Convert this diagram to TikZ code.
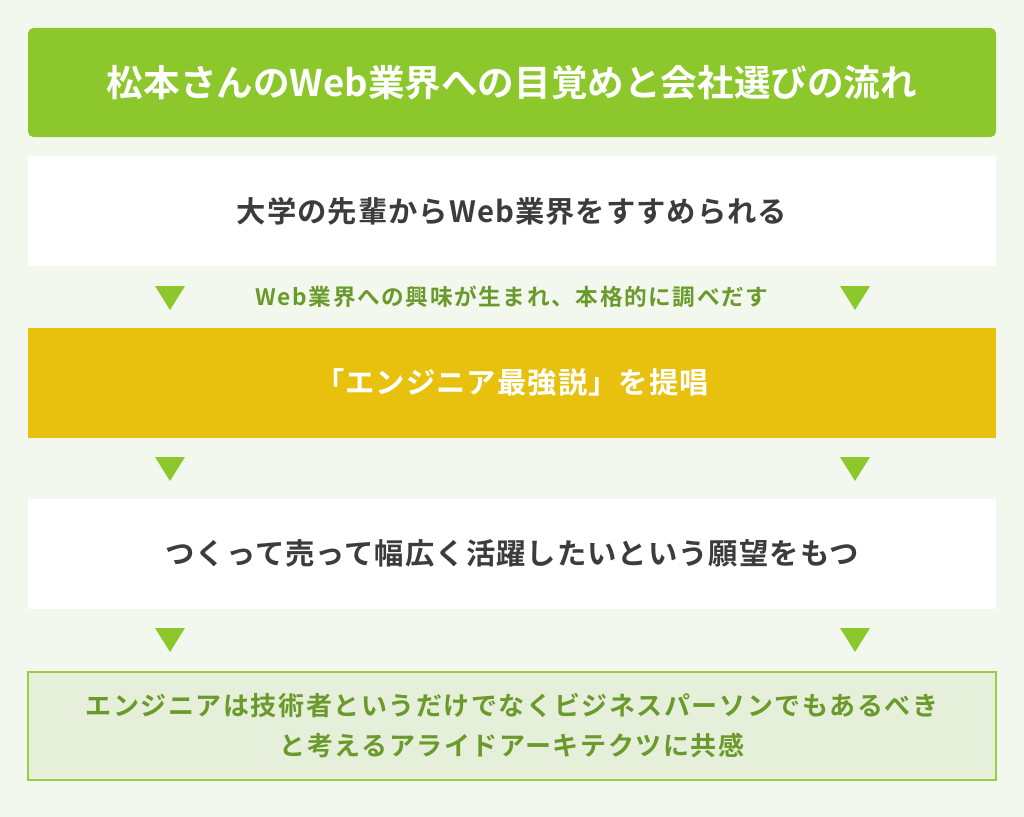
\documentclass[tikz,border=0pt]{standalone}
\usepackage{fontspec}
\setmainfont{Noto Sans CJK JP}[BoldFont={Noto Sans CJK JP Bold}]
\usetikzlibrary{positioning,calc}

\definecolor{bgcol}{HTML}{F3F8EE}
\definecolor{leaf}{HTML}{8CC82C}
\definecolor{mustard}{HTML}{E8C10E}
\definecolor{ink}{HTML}{3C3C3C}
\definecolor{olive}{HTML}{6A9A2B}
\definecolor{pale}{HTML}{E6EFD9}
\definecolor{rim}{HTML}{9CCB45}

\tikzset{
  flowbox/.style={minimum width=726pt, minimum height=82.5pt, inner sep=0pt, align=center},
  boxfont/.style={font=\bfseries\fontsize{22}{26}\selectfont\addfontfeature{LetterSpace=3.5}},
}

% downward triangle marker
\newcommand{\downtri}[1]{\fill[leaf] ($(#1)+(-15,-11)$) -- ($(#1)+(15,-11)$) -- ($(#1)+(0,13)$) -- cycle;}

\begin{document}
\begin{tikzpicture}[x=0.75pt, y=-0.75pt]
  \fill[bgcol] (0,0) rectangle (1024,817);
  \useasboundingbox (0,0) rectangle (1024,817);

  \node[flowbox, fill=leaf, minimum height=81.75pt, rounded corners=4pt, text=white,
        font=\bfseries\fontsize{27.45}{32}\selectfont] (header) at (512,82.5)
        {松本さんのWeb業界への目覚めと会社選びの流れ};

  \node[flowbox, fill=white, text=ink, boxfont] (step1) at (512,211)
        {大学の先輩からWeb業界をすすめられる};

  \coordinate (tl1) at (170,297);
  \coordinate (tr1) at (855,297);
  \node[text=olive, font=\bfseries\fontsize{17}{20}\selectfont\addfontfeature{LetterSpace=7}] (note1) at (512,297)
        {Web業界への興味が生まれ、本格的に調べだす};

  \node[flowbox, fill=mustard, text=white, boxfont] (step2) at (512,382.5)
        {「エンジニア最強説」を提唱};

  \coordinate (tl2) at (170,468);
  \coordinate (tr2) at (855,468);

  \node[flowbox, fill=white, text=ink, boxfont] (step3) at (512,553.5)
        {つくって売って幅広く活躍したいという願望をもつ};

  \coordinate (tl3) at (170,639);
  \coordinate (tr3) at (855,639);

  \node[flowbox, fill=pale, draw=rim, line width=1pt, minimum height=81pt, text=olive,
        font=\bfseries\fontsize{19.5}{30}\selectfont\addfontfeature{LetterSpace=6}] (step4) at (512,726)
        {エンジニアは技術者というだけでなくビジネスパーソンでもあるべき\\と考えるアライドアーキテクツに共感};

  \foreach \t in {tl1,tr1,tl2,tr2,tl3,tr3} {\downtri{\t}}
\end{tikzpicture}
\end{document}
